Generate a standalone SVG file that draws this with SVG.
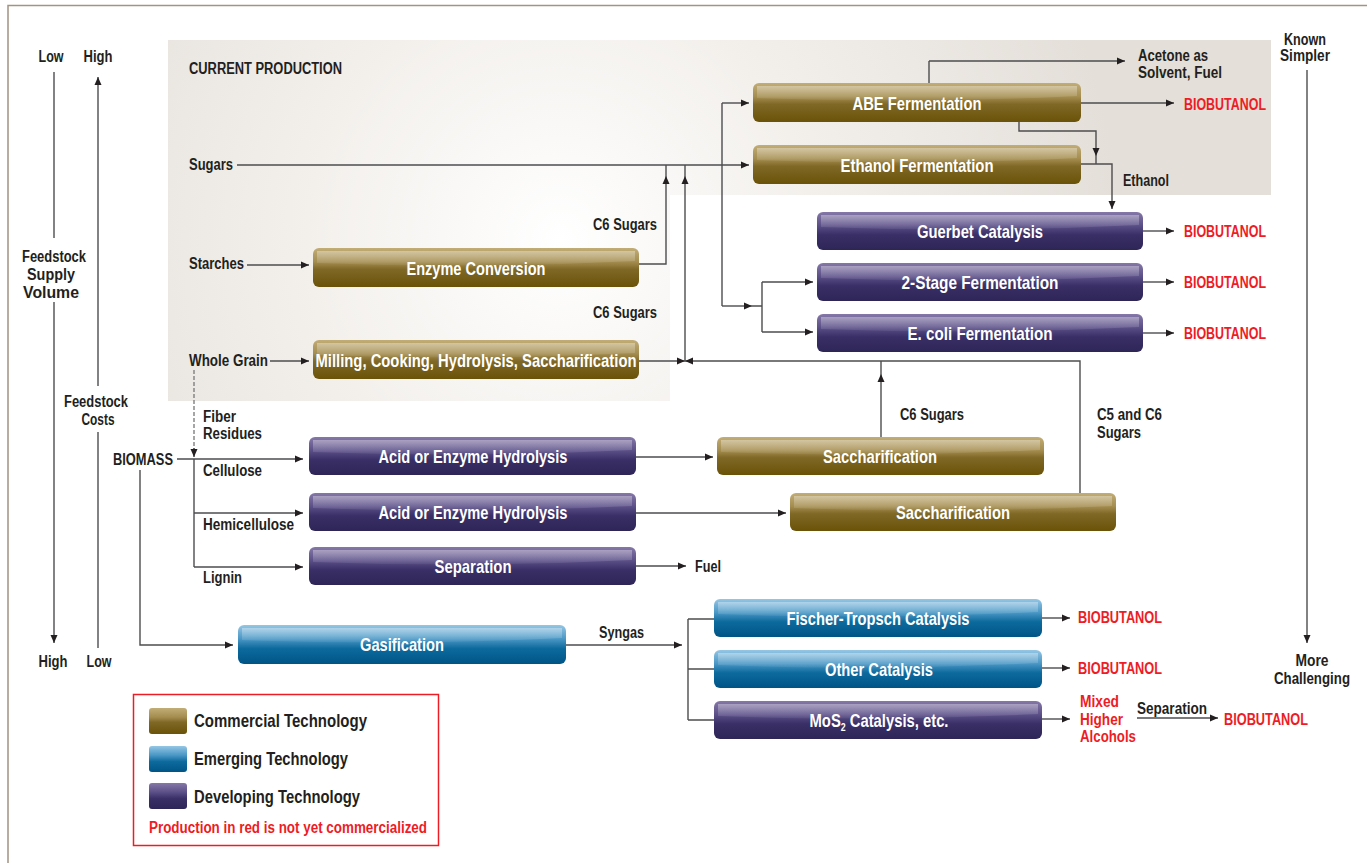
<svg xmlns="http://www.w3.org/2000/svg" width="1367" height="863" viewBox="0 0 1367 863">
  <style>
    text { font-family: "Liberation Sans", Arial, sans-serif; font-weight: bold; fill: #231f20; }
    .t { font-size: 16px; }
    .tm { font-size: 16px; text-anchor: middle; }
    .bl { font-size: 18.5px; fill: #ffffff; text-anchor: middle; }
    .red { font-size: 17px; fill: #ee1c25; }
    .lg { font-size: 18.5px; }
    .ln { fill: none; stroke: #4d4d4f; stroke-width: 1.4; }
    .lnd { fill: none; stroke: #808080; stroke-width: 1.4; stroke-dasharray: 4 2; }
    .arr { fill: none; stroke: #4d4d4f; stroke-width: 1.4; marker-end: url(#ah); }
    .glint { fill: url(#gloss); }
  </style>
  <defs>
    <marker id="ah" viewBox="0 0 8 8" refX="8" refY="4" markerWidth="8" markerHeight="8" markerUnits="userSpaceOnUse" orient="auto">
      <path d="M0,0.5 L8,4 L0,7.5 z" fill="#231f20"/>
    </marker>
    <radialGradient id="bg" gradientUnits="userSpaceOnUse" cx="560" cy="240" r="560">
      <stop offset="0" stop-color="#ffffff"/>
      <stop offset="0.45" stop-color="#f3f0ec"/>
      <stop offset="1" stop-color="#e4dfd9"/>
    </radialGradient>
    <linearGradient id="brown" x1="0" y1="0" x2="0" y2="1">
      <stop offset="0" stop-color="#c2ad77"/>
      <stop offset="0.35" stop-color="#a48d4f"/>
      <stop offset="0.55" stop-color="#7f6826"/>
      <stop offset="1" stop-color="#6a5208"/>
    </linearGradient>
    <linearGradient id="blue" x1="0" y1="0" x2="0" y2="1">
      <stop offset="0" stop-color="#95c6e4"/>
      <stop offset="0.35" stop-color="#4b98c6"/>
      <stop offset="0.6" stop-color="#0d6a9d"/>
      <stop offset="1" stop-color="#005486"/>
    </linearGradient>
    <linearGradient id="purple" x1="0" y1="0" x2="0" y2="1">
      <stop offset="0" stop-color="#8578a8"/>
      <stop offset="0.35" stop-color="#5c5088"/>
      <stop offset="0.6" stop-color="#3a2f66"/>
      <stop offset="1" stop-color="#2e2557"/>
    </linearGradient>
    <linearGradient id="gloss" x1="0" y1="0" x2="0" y2="1">
      <stop offset="0" stop-color="#ffffff" stop-opacity="0.35"/>
      <stop offset="1" stop-color="#ffffff" stop-opacity="0.05"/>
    </linearGradient>
  </defs>

  <!-- page frame -->
  <path d="M8,863 L8,5.5 L1367,5.5" fill="none" stroke="#a39382" stroke-width="1.5"/>

  <!-- current production backdrop -->
  <path d="M168,40 L1271,40 L1271,195 L670,195 L670,401 L168,401 z" fill="url(#bg)"/>
  <text x="189" y="74" style="font-size:16px" textLength="153" lengthAdjust="spacingAndGlyphs">CURRENT PRODUCTION</text>

  <!-- axes -->
  <g id="axis-supply">
    <text class="tm" x="51" y="62" textLength="25" lengthAdjust="spacingAndGlyphs">Low</text>
    <path class="ln" d="M54,72 L54,238"/>
    <text class="tm" x="54" y="262" textLength="64" lengthAdjust="spacingAndGlyphs">Feedstock</text>
    <text class="tm" x="51" y="280" textLength="48" lengthAdjust="spacingAndGlyphs">Supply</text>
    <text class="tm" x="51" y="298" textLength="56" lengthAdjust="spacingAndGlyphs">Volume</text>
    <path class="arr" d="M54,302 L54,643"/>
    <text class="tm" x="53" y="667" textLength="29" lengthAdjust="spacingAndGlyphs">High</text>
  </g>
  <g id="axis-cost">
    <text class="tm" x="98" y="62" textLength="29" lengthAdjust="spacingAndGlyphs">High</text>
    <path class="arr" d="M98,386 L98,77"/>
    <text class="tm" x="96" y="407" textLength="64" lengthAdjust="spacingAndGlyphs">Feedstock</text>
    <text class="tm" x="98" y="425" textLength="33" lengthAdjust="spacingAndGlyphs">Costs</text>
    <path class="ln" d="M98,432 L98,648"/>
    <text class="tm" x="99" y="667" textLength="25" lengthAdjust="spacingAndGlyphs">Low</text>
  </g>
  <g id="axis-difficulty">
    <text class="tm" x="1305" y="45" textLength="42" lengthAdjust="spacingAndGlyphs">Known</text>
    <text class="tm" x="1305" y="61" textLength="50" lengthAdjust="spacingAndGlyphs">Simpler</text>
    <path class="arr" d="M1307,70 L1307,643"/>
    <text class="tm" x="1312" y="666" textLength="33" lengthAdjust="spacingAndGlyphs">More</text>
    <text class="tm" x="1312" y="684" textLength="76" lengthAdjust="spacingAndGlyphs">Challenging</text>
  </g>

  <!-- connectors -->
  <g id="connectors">
    <!-- sugars feed -->
    <text class="t" x="189" y="170" textLength="44" lengthAdjust="spacingAndGlyphs">Sugars</text>
    <path class="arr" d="M237,165 L749,165"/>
    <path class="ln" d="M722,306 L722,103"/>
    <path class="arr" d="M722,103 L749,103"/>
    <!-- starches -->
    <text class="t" x="189" y="269" textLength="55" lengthAdjust="spacingAndGlyphs">Starches</text>
    <path class="arr" d="M247,265 L309,265"/>
    <path class="arr" d="M639,264 L666,264 L666,176"/>
    <path class="ln" d="M666,176 L666,165"/>
    <text class="t" x="593" y="230" textLength="64" lengthAdjust="spacingAndGlyphs">C6 Sugars</text>
    <!-- whole grain -->
    <text class="t" x="189" y="366" textLength="79" lengthAdjust="spacingAndGlyphs">Whole Grain</text>
    <path class="arr" d="M270,361 L309,361"/>
    <path class="arr" d="M639,361 L685,361"/>
    <path class="arr" d="M1080,493 L1080,361 L685,361"/>
    <path class="arr" d="M685,361 L685,176"/>
    <path class="ln" d="M685,176 L685,165"/>
    <text class="t" x="593" y="318" textLength="64" lengthAdjust="spacingAndGlyphs">C6 Sugars</text>
    <!-- ABE / ethanol -->
    <path class="ln" d="M929,83 L929,61"/>
    <path class="arr" d="M929,61 L1125,61"/>
    <text class="t" x="1138" y="61" textLength="70" lengthAdjust="spacingAndGlyphs">Acetone as</text>
    <text class="t" x="1138" y="78" textLength="84" lengthAdjust="spacingAndGlyphs">Solvent, Fuel</text>
    <path class="arr" d="M1081,103 L1174,103"/>
    <path class="arr" d="M1019,122 L1019,131 L1096,131 L1096,156"/>
    <path class="ln" d="M1096,156 L1096,164"/>
    <path class="arr" d="M1081,164 L1112,164 L1112,209"/>
    <text class="t" x="1123" y="186" textLength="46" lengthAdjust="spacingAndGlyphs">Ethanol</text>
    <path class="arr" d="M1143,231 L1174,231"/>
    <!-- two-stage / e. coli -->
    <path class="arr" d="M722,306 L752,306"/>
    <path class="ln" d="M752,306 L762,306 M762,282 L762,332"/>
    <path class="arr" d="M762,282 L813,282"/>
    <path class="arr" d="M762,332 L813,332"/>
    <path class="arr" d="M1143,282 L1174,282"/>
    <path class="arr" d="M1143,333 L1174,333"/>
    <!-- biomass fractions -->
    <text class="t" x="113" y="465" textLength="60" lengthAdjust="spacingAndGlyphs">BIOMASS</text>
    <path class="lnd" d="M194,370 L194,449"/>
    <path class="arr" d="M194,448 L194,457"/>
    <text class="t" x="203" y="422" textLength="33" lengthAdjust="spacingAndGlyphs">Fiber</text>
    <text class="t" x="203" y="439" textLength="59" lengthAdjust="spacingAndGlyphs">Residues</text>
    <path class="arr" d="M177,459 L303,459"/>
    <path class="ln" d="M194,459 L194,567"/>
    <text class="t" x="203" y="476" textLength="59" lengthAdjust="spacingAndGlyphs">Cellulose</text>
    <path class="arr" d="M194,513 L303,513"/>
    <text class="t" x="203" y="530" textLength="91" lengthAdjust="spacingAndGlyphs">Hemicellulose</text>
    <path class="arr" d="M194,567 L303,567"/>
    <text class="t" x="203" y="583" textLength="39" lengthAdjust="spacingAndGlyphs">Lignin</text>
    <path class="arr" d="M636,457 L713,457"/>
    <path class="arr" d="M636,513 L786,513"/>
    <path class="arr" d="M881,437 L881,374"/>
    <path class="ln" d="M881,374 L881,361"/>
    <text class="t" x="900" y="420" textLength="64" lengthAdjust="spacingAndGlyphs">C6 Sugars</text>
    <text class="t" x="1097" y="420" textLength="65" lengthAdjust="spacingAndGlyphs">C5 and C6</text>
    <text class="t" x="1097" y="438" textLength="44" lengthAdjust="spacingAndGlyphs">Sugars</text>
    <path class="arr" d="M636,566 L686,566"/>
    <text class="t" x="695" y="572" textLength="26" lengthAdjust="spacingAndGlyphs">Fuel</text>
    <!-- gasification -->
    <path class="arr" d="M140,470 L140,645 L233,645"/>
    <path class="arr" d="M566,645 L682,645"/>
    <text class="t" x="599" y="638" textLength="45" lengthAdjust="spacingAndGlyphs">Syngas</text>
    <path class="ln" d="M688,619 L688,720 M688,619 L714,619 M688,669 L714,669 M688,720 L714,720"/>
    <path class="arr" d="M1042,618 L1070,618"/>
    <path class="arr" d="M1042,668 L1070,668"/>
    <path class="arr" d="M1042,719 L1070,719"/>
    <path class="arr" d="M1137,718 L1218,718"/>
    <text class="t" x="1137" y="714" textLength="70" lengthAdjust="spacingAndGlyphs">Separation</text>
  </g>

  <!-- products -->
  <g id="outputs">
    <text class="red" x="1184" y="110" textLength="82" lengthAdjust="spacingAndGlyphs">BIOBUTANOL</text>
    <text class="red" x="1184" y="237" textLength="82" lengthAdjust="spacingAndGlyphs">BIOBUTANOL</text>
    <text class="red" x="1184" y="288" textLength="82" lengthAdjust="spacingAndGlyphs">BIOBUTANOL</text>
    <text class="red" x="1184" y="339" textLength="82" lengthAdjust="spacingAndGlyphs">BIOBUTANOL</text>
    <text class="red" x="1078" y="623" textLength="84" lengthAdjust="spacingAndGlyphs">BIOBUTANOL</text>
    <text class="red" x="1078" y="674" textLength="84" lengthAdjust="spacingAndGlyphs">BIOBUTANOL</text>
    <text class="red" x="1080" y="707" textLength="39" lengthAdjust="spacingAndGlyphs">Mixed</text>
    <text class="red" x="1080" y="725" textLength="43" lengthAdjust="spacingAndGlyphs">Higher</text>
    <text class="red" x="1080" y="742" textLength="56" lengthAdjust="spacingAndGlyphs">Alcohols</text>
    <text class="red" x="1224" y="725" textLength="84" lengthAdjust="spacingAndGlyphs">BIOBUTANOL</text>
  </g>

  <!-- process nodes -->
  <g id="abe">
    <rect x="753" y="83" width="328" height="39" rx="6" fill="url(#brown)"/>
    <path class="glint" d="M757,86 h320 v10 q-160,8 -320,2 z"/>
    <text class="bl" x="917" y="110" textLength="129" lengthAdjust="spacingAndGlyphs">ABE Fermentation</text>
  </g>
  <g id="ethanol">
    <rect x="753" y="145" width="328" height="39" rx="6" fill="url(#brown)"/>
    <path class="glint" d="M757,148 h320 v10 q-160,8 -320,2 z"/>
    <text class="bl" x="917" y="172" textLength="153" lengthAdjust="spacingAndGlyphs">Ethanol Fermentation</text>
  </g>
  <g id="enzyme">
    <rect x="313" y="248" width="326" height="39" rx="6" fill="url(#brown)"/>
    <path class="glint" d="M317,251 h318 v10 q-159,8 -318,2 z"/>
    <text class="bl" x="476" y="275" textLength="139" lengthAdjust="spacingAndGlyphs">Enzyme Conversion</text>
  </g>
  <g id="milling">
    <rect x="313" y="340" width="326" height="39" rx="6" fill="url(#brown)"/>
    <path class="glint" d="M317,343 h318 v10 q-159,8 -318,2 z"/>
    <text class="bl" x="476" y="367" textLength="321" lengthAdjust="spacingAndGlyphs">Milling, Cooking, Hydrolysis, Saccharification</text>
  </g>
  <g id="guerbet">
    <rect x="817" y="212" width="326" height="38" rx="6" fill="url(#purple)"/>
    <path class="glint" d="M821,215 h318 v10 q-159,8 -318,2 z"/>
    <text class="bl" x="980" y="238" textLength="126" lengthAdjust="spacingAndGlyphs">Guerbet Catalysis</text>
  </g>
  <g id="two-stage">
    <rect x="817" y="263" width="326" height="38" rx="6" fill="url(#purple)"/>
    <path class="glint" d="M821,266 h318 v10 q-159,8 -318,2 z"/>
    <text class="bl" x="980" y="289" textLength="157" lengthAdjust="spacingAndGlyphs">2-Stage Fermentation</text>
  </g>
  <g id="ecoli">
    <rect x="817" y="314" width="326" height="38" rx="6" fill="url(#purple)"/>
    <path class="glint" d="M821,317 h318 v10 q-159,8 -318,2 z"/>
    <text class="bl" x="980" y="340" textLength="145" lengthAdjust="spacingAndGlyphs">E. coli Fermentation</text>
  </g>
  <g id="hydrolysis-cellulose">
    <rect x="309" y="437" width="327" height="38" rx="6" fill="url(#purple)"/>
    <path class="glint" d="M313,440 h319 v10 q-159,8 -319,2 z"/>
    <text class="bl" x="473" y="463" textLength="189" lengthAdjust="spacingAndGlyphs">Acid or Enzyme Hydrolysis</text>
  </g>
  <g id="saccharification-c6">
    <rect x="717" y="437" width="327" height="38" rx="6" fill="url(#brown)"/>
    <path class="glint" d="M721,440 h319 v10 q-159,8 -319,2 z"/>
    <text class="bl" x="880" y="463" textLength="114" lengthAdjust="spacingAndGlyphs">Saccharification</text>
  </g>
  <g id="hydrolysis-hemicellulose">
    <rect x="309" y="493" width="327" height="38" rx="6" fill="url(#purple)"/>
    <path class="glint" d="M313,496 h319 v10 q-159,8 -319,2 z"/>
    <text class="bl" x="473" y="519" textLength="189" lengthAdjust="spacingAndGlyphs">Acid or Enzyme Hydrolysis</text>
  </g>
  <g id="saccharification-c5c6">
    <rect x="790" y="493" width="326" height="38" rx="6" fill="url(#brown)"/>
    <path class="glint" d="M794,496 h318 v10 q-159,8 -318,2 z"/>
    <text class="bl" x="953" y="519" textLength="114" lengthAdjust="spacingAndGlyphs">Saccharification</text>
  </g>
  <g id="separation">
    <rect x="309" y="547" width="327" height="38" rx="6" fill="url(#purple)"/>
    <path class="glint" d="M313,550 h319 v10 q-159,8 -319,2 z"/>
    <text class="bl" x="473" y="573" textLength="77" lengthAdjust="spacingAndGlyphs">Separation</text>
  </g>
  <g id="gasification">
    <rect x="238" y="625" width="328" height="39" rx="6" fill="url(#blue)"/>
    <path class="glint" d="M242,628 h320 v10 q-160,8 -320,2 z"/>
    <text class="bl" x="402" y="651" textLength="84" lengthAdjust="spacingAndGlyphs">Gasification</text>
  </g>
  <g id="fischer-tropsch">
    <rect x="714" y="599" width="328" height="38" rx="6" fill="url(#blue)"/>
    <path class="glint" d="M718,602 h320 v10 q-160,8 -320,2 z"/>
    <text class="bl" x="878" y="625" textLength="183" lengthAdjust="spacingAndGlyphs">Fischer-Tropsch Catalysis</text>
  </g>
  <g id="other-catalysis">
    <rect x="714" y="650" width="328" height="38" rx="6" fill="url(#blue)"/>
    <path class="glint" d="M718,653 h320 v10 q-160,8 -320,2 z"/>
    <text class="bl" x="879" y="676" textLength="108" lengthAdjust="spacingAndGlyphs">Other Catalysis</text>
  </g>
  <g id="mos2">
    <rect x="714" y="701" width="328" height="38" rx="6" fill="url(#purple)"/>
    <path class="glint" d="M718,704 h320 v10 q-160,8 -320,2 z"/>
    <!-- condensed label: one text run, squeezed horizontally -->
    <text class="bl" transform="translate(879,727) scale(0.8,1)" x="0" y="0">MoS<tspan style="font-size:11px" dy="4">2</tspan><tspan dy="-4"> Catalysis, etc.</tspan></text>
  </g>

  <!-- legend -->
  <g id="legend">
    <rect x="133.5" y="694.5" width="305" height="151" fill="#ffffff" stroke="#ee1c25" stroke-width="1.5"/>
    <rect x="149" y="708" width="38" height="26" rx="3" fill="url(#brown)"/>
    <rect x="149" y="746" width="38" height="26" rx="3" fill="url(#blue)"/>
    <rect x="149" y="783" width="38" height="26" rx="3" fill="url(#purple)"/>
    <text class="lg" x="194" y="727" textLength="173" lengthAdjust="spacingAndGlyphs">Commercial Technology</text>
    <text class="lg" x="194" y="765" textLength="154" lengthAdjust="spacingAndGlyphs">Emerging Technology</text>
    <text class="lg" x="194" y="803" textLength="166" lengthAdjust="spacingAndGlyphs">Developing Technology</text>
    <text class="red" x="149" y="833" style="font-size:16px" textLength="278" lengthAdjust="spacingAndGlyphs">Production in red is not yet commercialized</text>
  </g>
</svg>
